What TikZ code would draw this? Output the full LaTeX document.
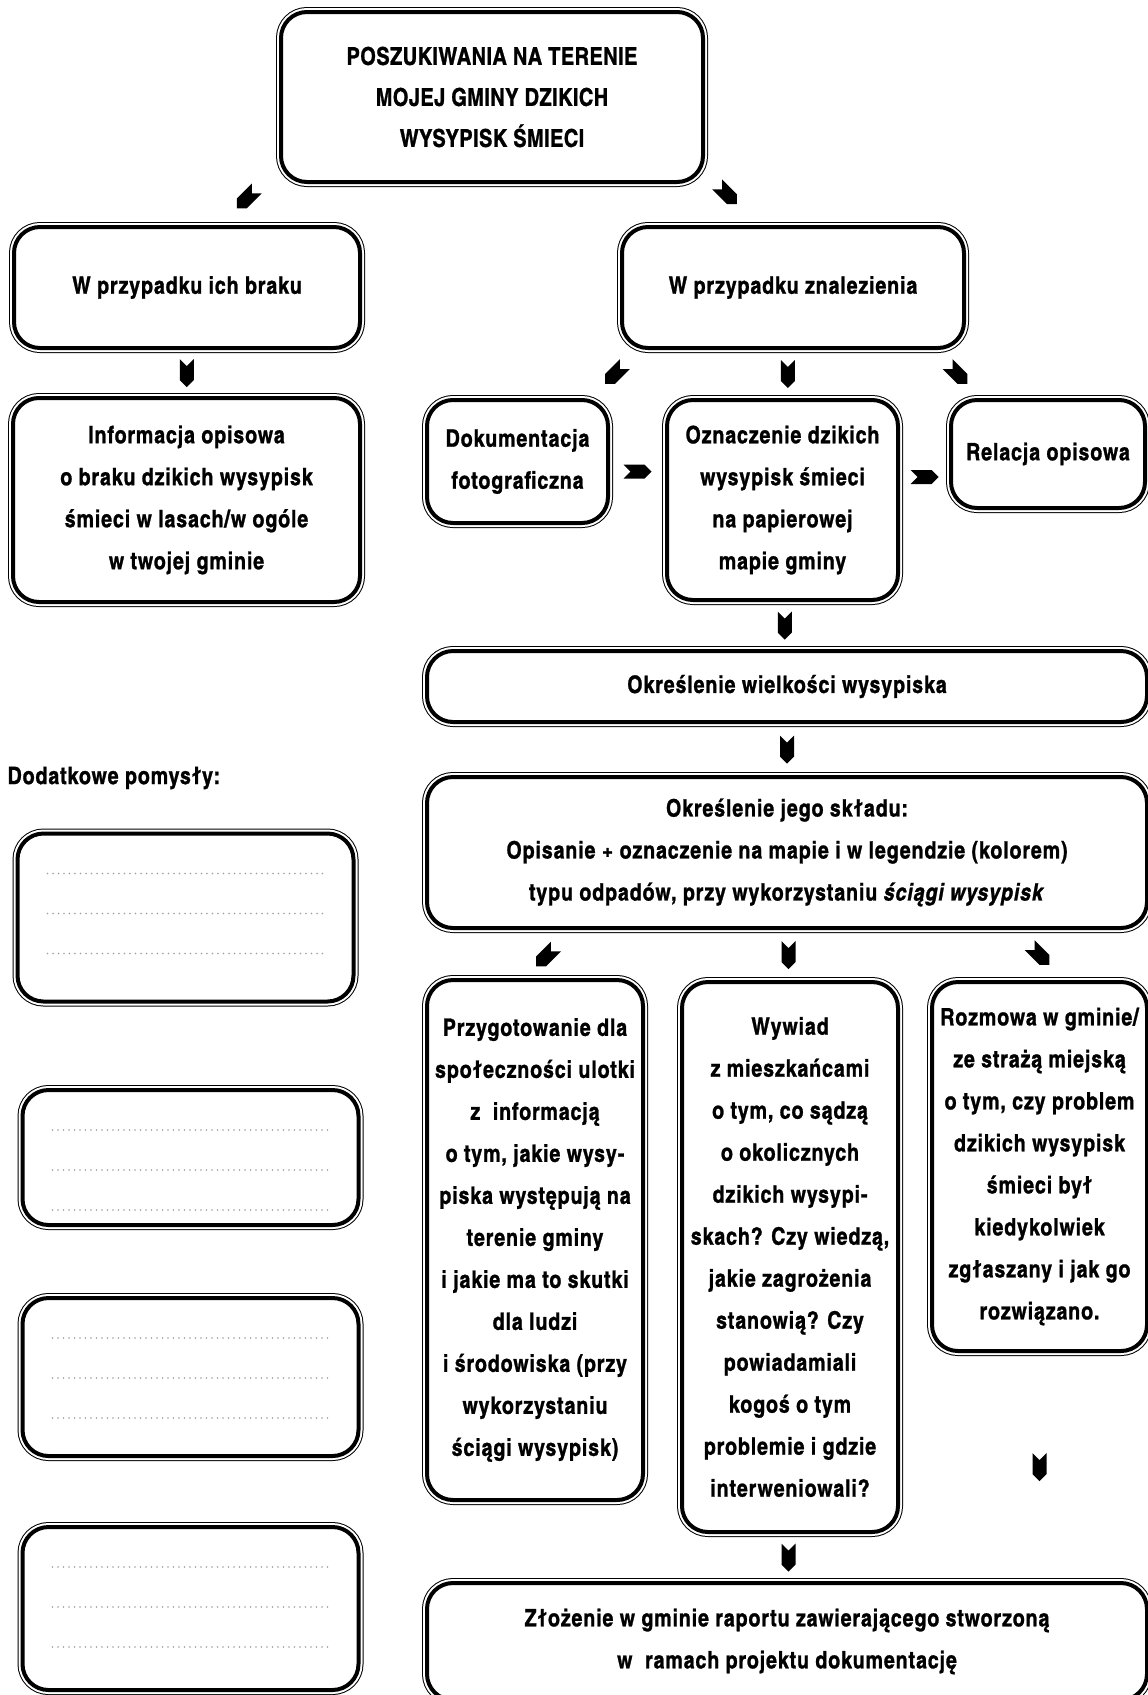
\documentclass[tikz,border=0pt]{standalone}
\usepackage{fontspec}
\setmainfont{texgyreheroscn-bold.otf}[BoldFont=texgyreheroscn-bold.otf, ItalicFont=texgyreheroscn-bolditalic.otf, LetterSpace=3.5, FakeBold=1]
\newfontfamily\titlefont{texgyreheroscn-bold.otf}[LetterSpace=1.5, FakeBold=1]
\usetikzlibrary{shapes.symbols,calc}

\begin{document}
\begin{tikzpicture}[x=1pt, y=-1pt,
  box/.style={draw, fill=white, line width=4pt, rounded corners=26pt,
    preaction={draw, line width=10pt}, preaction={draw=white, line width=8pt},
    inner sep=0pt, align=center, font=\fontsize{24}{42}\selectfont},
  boxsize/.style 2 args={minimum width=#1pt, minimum height=#2pt},
  chev/.style={signal, signal from=west, signal to=east, signal pointer angle=90,
    fill=black, inner sep=0pt, minimum width=28pt, minimum height=14pt},
  dots/.style={draw=gray!75, line width=1.7pt, line cap=round, dash pattern=on 0pt off 5.5pt}]
\useasboundingbox (0,0) rectangle (1148,1695);

% main column
\node[box, boxsize={422}{170}, font=\titlefont\fontsize{24.5}{41}\selectfont] (top) at (492,97)
  {POSZUKIWANIA NA TERENIE\\MOJEJ GMINY DZIKICH\\WYSYPISK ŚMIECI};
\node[box, boxsize={346}{121}] (none) at (187,287.5) {W przypadku ich braku};
\node[box, boxsize={342}{121}] (found) at (793,287.5) {W przypadku znalezienia};
\node[box, boxsize={347}{204}] (info) at (186.5,500)
  {Informacja opisowa\\o braku dzikich wysypisk\\śmieci w lasach/w ogóle\\w twojej gminie};
\node[box, boxsize={181}{123}] (photo) at (517.5,461.5) {Dokumentacja\\fotograficzna};
\node[box, boxsize={231}{200}] (mark) at (782.5,500)
  {Oznaczenie dzikich\\wysypisk śmieci\\na papierowej\\mapie gminy};
\node[box, boxsize={194}{108}] (story) at (1048,454) {Relacja opisowa};
\node[box, boxsize={720}{71}] (amount) at (787,686.5) {Określenie wielkości wysypiska};
\node[box, boxsize={720}{151}] (kind) at (787,852.5)
  {Określenie jego składu:\\Opisanie + oznaczenie na mapie i w legendzie (kolorem)\\typu odpadów, przy wykorzystaniu \textit{ściągi wysypisk}};
\node[box, boxsize={216}{520}] (leaflet) at (535,1240)
  {Przygotowanie dla\\społeczności ulotki\\z\ \ informacją\\o tym, jakie wysy-\\piska występują na\\terenie gminy\\i jakie ma to skutki\\dla ludzi\\i środowiska (przy\\wykorzystaniu\\ściągi wysypisk)};
\node[box, boxsize={216}{550}] (talk) at (790,1257)
  {Wywiad\\z mieszkańcami\\o tym, co sądzą\\o okolicznych\\dzikich wysypi-\\skach? Czy wiedzą,\\jakie zagrożenia\\stanowią? Czy\\powiadamiali\\kogoś o tym\\problemie i gdzie\\interweniowali?};
\node[box, boxsize={215}{369}] (office) at (1039.5,1166.5)
  {Rozmowa w gminie/\\ze strażą miejską\\o tym, czy problem\\dzikich wysypisk\\śmieci był\\kiedykolwiek\\zgłaszany i jak go\\rozwiązano.};
\node[box, boxsize={720}{117}] (report) at (787,1641.5)
  {Złożenie w gminie raportu zawierającego stworzoną\\w\ \ ramach projektu dokumentację};

% empty boxes on the left
\node[anchor=west, font=\fontsize{24}{42}\selectfont] (ideas) at (4,778) {Dodatkowe pomysły:};
\foreach \i/\x/\y/\h in {1/185.5/917.5/168, 2/190.5/1157.5/135, 3/190.5/1377/158, 4/190.5/1608.5/163}
  \node[box, boxsize={336}{\h}] (idea\i) at (\x,\y) {};
\foreach \i in {1,...,4}
  \foreach \dy in {42,82,122}
    \draw[dots] ([shift={(32,\dy)}]idea\i.north west) -- ([shift={(-33,\dy)}]idea\i.north east);

% arrows
\node[chev, rotate=-135] (c1) at ($(top.south west)!.35!(none.north)$) {};
\node[chev, rotate=-45] (c2) at ($(top.south east)!.25!(found.north)$) {};
\node[chev, rotate=-90] (c3) at ($(none.south)!.5!(info.north)$) {};
\node[chev, rotate=-135] (c4) at ($(found.south west)!.5!(photo.north east)$) {};
\node[chev, rotate=-90] (c5) at ($(found.south)!.5!(mark.north)$) {};
\node[chev, rotate=-45] (c6) at ($(found.south east)!.5!(story.north west)$) {};
\node[chev, yshift=-10pt] (c7) at ($(photo.east)!.5!(photo.east -| mark.west)$) {};
\node[chev] (c8) at ($(mark.east)!.5!(story.west)$) {};
\node[chev, rotate=-90] (c9) at ($(mark.south)!.5!(amount.north)$) {};
\node[chev, rotate=-90] (c10) at ($(amount.south)!.5!(kind.north)$) {};
\node[chev, rotate=-135] (c11) at ($(kind.south west)!.55!(leaflet.north east)$) {};
\node[chev, rotate=-90] (c12) at ($(kind.south)!.5!(talk.north)$) {};
\node[chev, rotate=-45] (c13) at ($(kind.south -| office.north)!.5!(office.north)$) {};
\node[chev, rotate=-90] (c14) at ($(talk.south)!.5!(report.north)$) {};
\node[chev, rotate=-90] (c15) at ($(office.south)!.5!(office.south |- report.north)$) {};
\end{tikzpicture}
\end{document}
